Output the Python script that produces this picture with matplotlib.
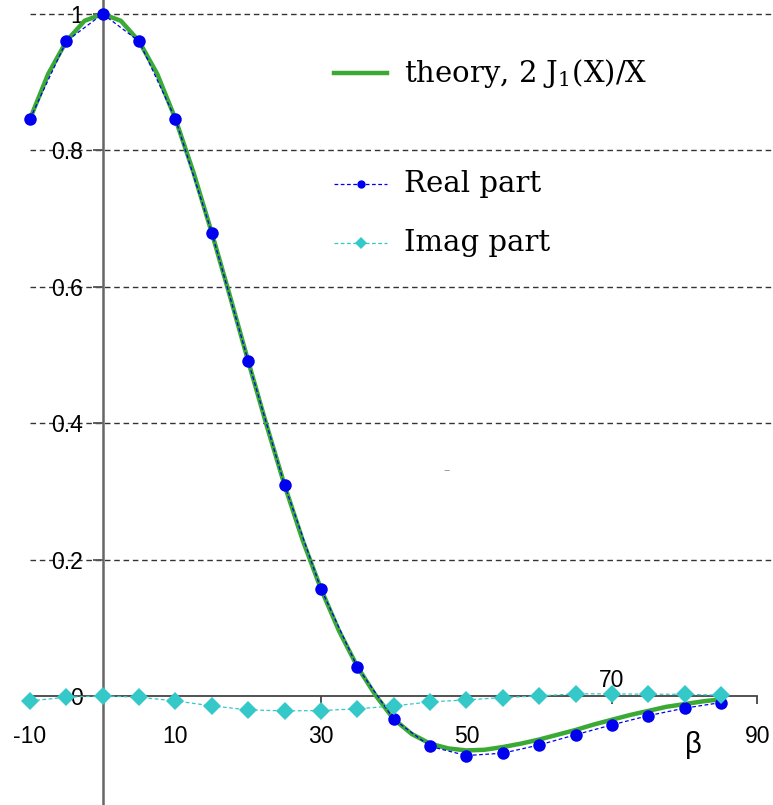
import matplotlib
matplotlib.use("Agg")
import matplotlib.pyplot as plt
import matplotlib.transforms as mtransforms
from matplotlib.lines import Line2D

plt.rcParams['mathtext.fontset'] = 'dejavuserif'

# measured points (beta in degrees)
beta = [-10, -5, 0, 5, 10, 15, 20, 25, 30, 35, 40, 45, 50, 55, 60, 65, 70, 75, 80, 85]
real_part = [0.846, 0.960, 1.0, 0.960, 0.846, 0.679, 0.491, 0.309, 0.157, 0.0425,
             -0.034, -0.074, -0.0875, -0.084, -0.072, -0.057, -0.0425, -0.029, -0.018, -0.0098]
imag_part = [-0.0073, -0.002, 0.0, -0.002, -0.0073, -0.0147, -0.0205, -0.022, -0.0215, -0.019,
             -0.0147, -0.0088, -0.0059, -0.0024, 0.0, 0.003, 0.003, 0.0024, 0.0024, 0.001]

# theory curve
beta_th = [-10, -7.5, -5, -2.5, 0, 2.5, 5, 7.5, 10, 12.5, 15, 17.5, 20, 22.5, 25, 27.5, 30,
           32.5, 35, 37.5, 40, 42.5, 45, 47.5, 50, 52.5, 55, 57.5, 60, 62.5, 65, 67.5, 70,
           72.5, 75, 77.5, 80, 82.5, 85]
theory = [0.846, 0.912, 0.960, 0.990, 1.0, 0.990, 0.960, 0.912, 0.846, 0.767, 0.679, 0.586,
          0.491, 0.398, 0.309, 0.228, 0.157, 0.095, 0.043, 0.001, -0.034, -0.056, -0.070,
          -0.077, -0.080, -0.079, -0.075, -0.070, -0.064, -0.057, -0.050, -0.042, -0.035,
          -0.028, -0.022, -0.016, -0.012, -0.008, -0.005]

grid_y = [0.2, 0.4, 0.6, 0.8, 1.0]
xtick_vals = [-10, 10, 30, 50, 70, 90]
ytick_vals = [0, 0.2, 0.4, 0.6, 0.8, 1.0]
ytick_labels = ['0', '0.2', '0.4', '0.6', '0.8', '1']

green = '#3aaa35'
blue = '#0000f0'
cyan = '#35c8c8'

fig = plt.figure(figsize=(7.73, 8.05), dpi=100)
ax = fig.add_axes([0, 0, 1, 1])
ax.set_xlim(-14.12, 92.15)
ax.set_ylim(-0.160, 1.0205)

# dashed grid
ax.hlines(grid_y, -10, 93, colors='#333333', linestyles=(0, (4, 2.7)), linewidth=1.0, zorder=1)

ax.plot(beta_th, theory, color=green, linewidth=3.2, zorder=3)
ax.plot(beta, real_part, color=blue, linestyle=(0, (3, 2)), linewidth=0.9,
        marker='o', markersize=9, markeredgewidth=0, zorder=4)
ax.plot(beta, imag_part, color=cyan, linestyle=(0, (3, 2)), linewidth=0.9,
        marker='D', markersize=9, markeredgewidth=0, zorder=5)

# axes through the origin
for s in ['top', 'right']:
    ax.spines[s].set_visible(False)
ax.spines['left'].set_position(('data', 0))
ax.spines['bottom'].set_position(('data', 0))
ax.spines['left'].set_color('#666666')
ax.spines['left'].set_linewidth(1.8)
ax.spines['bottom'].set_color('#444444')
ax.spines['bottom'].set_linewidth(1.3)
ax.spines['bottom'].set_bounds(-10, 90)
ax.patch.set_alpha(0)

ax.set_yticks(ytick_vals)
ax.set_yticklabels(ytick_labels)
ax.set_xticks(xtick_vals)
ax.set_xticklabels([str(v) for v in xtick_vals])
ax.tick_params(axis='y', direction='out', length=7, width=1.3, color='#555555',
               pad=7, labelsize=16.5)
ax.tick_params(axis='x', direction='out', length=6, width=1.3, color='#444444',
               pad=15, labelsize=16.5)
for lab in ax.get_xticklabels() + ax.get_yticklabels():
    lab.set_fontfamily('Liberation Sans')
    lab.set_zorder(6)

# the 70 label sits above the axis
offset = mtransforms.ScaledTranslation(0, 40.5 / 72, fig.dpi_scale_trans)
lab70 = ax.get_xticklabels()[4]
lab70.set_transform(lab70.get_transform() + offset)

ax.text(81.2, -0.072, 'β', fontsize=21, family='Liberation Sans', ha='center', va='center')
ax.text(47.3, 0.331, '–', fontsize=9, color='#999999', ha='center', va='center')

# legend drawn by hand
ta = ax.transAxes
W, H = 773.0, 805.0
def px(x, y):
    return x / W, 1 - y / H

for (y, col, ls, mk, lw) in [(73, green, '-', None, 3.2), (184, blue, (0, (3, 2)), 'o', 0.9),
                             (243, cyan, (0, (3, 2)), 'D', 0.9)]:
    x0, yy = px(334, y)
    x1, _ = px(387, y)
    ax.add_line(Line2D([x0, x1], [yy, yy], transform=ta, color=col, linestyle=ls, linewidth=lw))
    if mk:
        xm, _ = px(361, y)
        ax.add_line(Line2D([xm], [yy], transform=ta, color=col, marker=mk, markersize=6,
                           markeredgewidth=0, linestyle='none'))

for (y, txt) in [(73, r'theory, 2 J$_1$(X)/X'), (184, 'Real part'), (243, 'Imag part')]:
    xt, yt = px(404, y)
    ax.text(xt, yt, txt, transform=ta, fontsize=21, family='DejaVu Serif',
            ha='left', va='center')

fig.savefig('out.png', dpi=100)
